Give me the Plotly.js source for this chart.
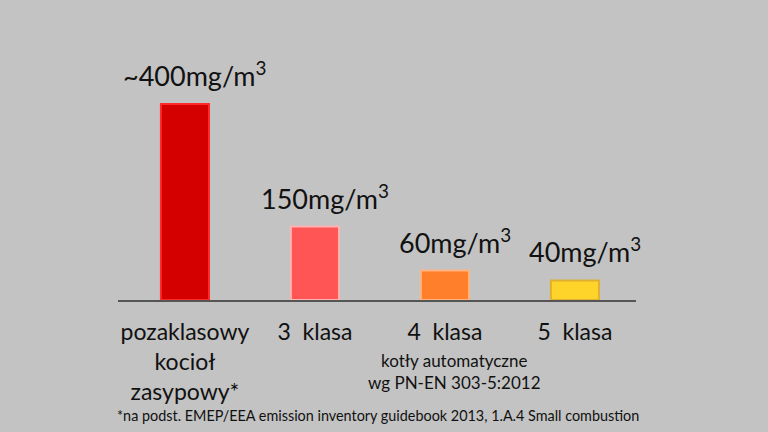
<!DOCTYPE html>
<html>
<head>
<meta charset="utf-8">
<script src="https://cdn.plot.ly/plotly-3.0.1.min.js"></script>
<style>
  html, body { margin:0; padding:0; background:#c3c3c3; }
  #chart { width:768px; height:432px; }
</style>
</head>
<body>
<div id="chart"></div>
<script>
// emission by boiler class
const categories = ['pozaklasowy', '3 klasa', '4 klasa', '5 klasa'];
const tickLabels = ['pozaklasowy<br>kocioł<br>zasypowy*', '3  klasa', '4  klasa', '5  klasa'];
const emission = [400, 150, 60, 40];
const valueLabels = ['~400mg/m<sup>3</sup>', '150mg/m<sup>3</sup>', '60mg/m<sup>3</sup>', '40mg/m<sup>3</sup>'];

const fillColors = ['#d40000', '#ff5555', '#ff7f2a', '#ffd42a'];
const edgeColors = ['#ff2a2a', '#ffb3b3', '#ffb380', '#e0b030'];

const font = 'Lato, "Open Sans", sans-serif';

const trace = {
  type: 'bar',
  x: categories,
  y: emission,
  width: 0.37,
  marker: { color: fillColors, line: { color: edgeColors, width: 2 } },
  hoverinfo: 'none'
};

const annotations = categories.map((c, i) => ({
  x: c, y: emission[i], xref: 'x', yref: 'y',
  text: valueLabels[i], showarrow: false,
  xanchor: 'center', yanchor: 'bottom', xshift: 10, yshift: 10,
  font: { family: font, size: 27, color: '#111' }
}));

annotations.push({
  x: 0.65, y: -0.17, xref: 'paper', yref: 'paper',
  text: 'kotły automatyczne<br>wg PN-EN 303-5:2012', showarrow: false,
  xanchor: 'center', yanchor: 'top', align: 'center',
  font: { family: font, size: 17, color: '#111' }
});
annotations.push({
  x: -0.006, y: -0.414, xref: 'paper', yref: 'paper',
  text: '*na podst. EMEP/EEA emission inventory guidebook 2013, 1.A.4 Small combustion',
  showarrow: false, xanchor: 'left', yanchor: 'middle',
  font: { family: font, size: 14.4, color: '#111' }
});

const layout = {
  width: 768, height: 432,
  margin: { l: 118, r: 132, t: 20, b: 132 },
  paper_bgcolor: '#c3c3c3',
  plot_bgcolor: '#c3c3c3',
  showlegend: false,
  xaxis: {
    type: 'category',
    range: [-0.515, 3.47],
    tickvals: categories,
    ticktext: tickLabels,
    ticks: '',
    showgrid: false,
    zeroline: false,
    showline: true,
    linecolor: '#555',
    linewidth: 1.5,
    ticklabelstandoff: 11,
    tickfont: { family: font, size: 23, color: '#111' }
  },
  yaxis: {
    range: [0, 571.4],
    visible: false,
    showgrid: false,
    zeroline: false
  },
  annotations: annotations
};

Plotly.newPlot('chart', [trace], layout, { staticPlot: true });
</script>
</body>
</html>
